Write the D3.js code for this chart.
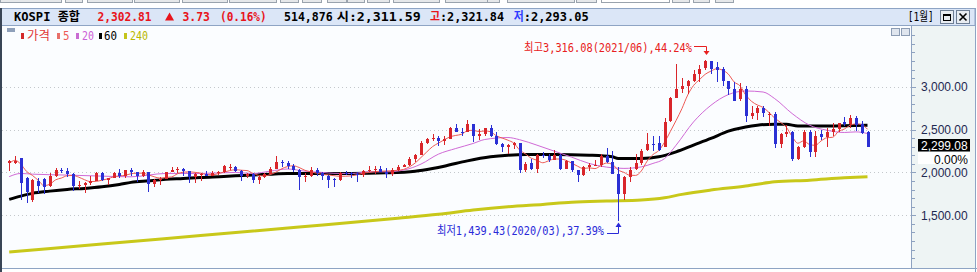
<!DOCTYPE html>
<html>
<head>
<meta charset="utf-8">
<script src="https://cdnjs.cloudflare.com/ajax/libs/d3/7.8.5/d3.min.js"></script>
<style>
body { margin: 0; background: #fff; overflow: hidden; }
svg { display: block; }
text { font-family: "DejaVu Sans Mono", "Noto Sans CJK KR", monospace; }
text.num { font-family: "Liberation Sans", Arial, sans-serif; }
</style>
</head>
<body>
<script>
// KOSPI monthly candles, 2011/06 .. 2023/10
var startYear = 2011, startMon = 6;

var opens = [
  2105,2108,2170,1930,1680,1897,1920,1840,1960,2030,
  2014,1982,1843,1854,1881,1905,1996,1912,1933,1997,
  1962,2027,2005,1964,2001,1863,1914,1926,2005,2030,
  2045,2011,1941,1980,1986,1962,1995,2002,2062,2068,
  2020,1964,1981,1916,1949,1985,2041,2127,2115,2074,
  2030,1941,1963,2029,1991,1961,1920,1917,1995,1994,
  1983,1970,2016,2034,2043,2008,1983,2026,2067,2091,
  2160,2205,2347,2392,2402,2363,2394,2523,2476,2474,
  2566,2427,2445,2515,2423,2326,2295,2322,2343,2029,
  2114,2041,2204,2195,2140,2203,2041,2130,2024,1967,
  2063,2083,2087,2197,2119,1987,1754,1947,2037,2108,
  2260,2330,2340,2300,2600,2874,2976,3013,3063,3150,
  3220,3303,3230,3205,3068,2970,2860,2977,2663,2699,
  2757,2680,2685,2332,2451,2472,2155,2293,2472,2236,
  2450,2412,2477,2501,2590,2564,2632,2560,2470];

var highs = [
  2146,2190,2172,1945,1925,1937,1940,1990,2050,2057,
  2050,1990,1903,1890,1960,2007,2005,1940,2000,2035,
  2030,2050,2010,2023,2010,1920,1950,2010,2063,2060,
  2050,2013,1990,1990,2020,2020,2020,2090,2093,2080,
  2030,1990,1990,1970,1990,2060,2190,2150,2130,2100,
  2040,1990,2065,2050,2000,1965,1930,2000,2020,2000,
  2010,2030,2070,2070,2070,2050,2050,2090,2100,2180,
  2220,2370,2400,2450,2430,2430,2530,2560,2520,2607,
  2570,2510,2520,2550,2470,2340,2330,2360,2345,2120,
  2160,2220,2240,2210,2260,2210,2150,2135,2030,2080,
  2110,2140,2220,2280,2250,2060,1960,2060,2220,2270,
  2460,2420,2420,2640,2880,3266,3100,3080,3200,3250,
  3316,3305,3285,3230,3070,3050,3040,3010,2770,2770,
  2780,2700,2700,2460,2550,2480,2310,2500,2500,2480,
  2490,2520,2580,2580,2650,2670,2660,2600,2480];

var lows = [
  2016,2095,1684,1644,1652,1760,1750,1825,1942,1988,
  1950,1780,1808,1758,1850,1900,1900,1850,1930,1940,
  1930,1960,1890,1950,1770,1830,1850,1920,2000,1990,
  1960,1880,1880,1900,1960,1955,1975,1995,2030,2010,
  1900,1930,1880,1870,1940,1980,2040,2060,2040,2000,
  1800,1890,1950,1960,1910,1820,1830,1900,1970,1930,
  1890,1950,2000,1980,2000,1930,1960,2020,2060,2070,
  2120,2200,2330,2370,2310,2320,2390,2470,2420,2470,
  2360,2380,2430,2410,2320,2240,2220,2270,1990,2010,
  2030,1990,2170,2120,2140,2030,2040,2010,1890,1960,
  2020,2080,2060,2110,1985,1439,1680,1890,2030,2090,
  2250,2250,2250,2300,2590,2870,2930,2920,3050,3050,
  3200,3150,3050,3010,2900,2830,2830,2590,2620,2610,
  2650,2540,2290,2280,2410,2134,2150,2280,2180,2180,
  2380,2300,2430,2470,2540,2520,2480,2450,2293];

var closes = [
  2135,2133,1880,1770,1909,1847,1826,1956,2030,2014,
  1982,1843,1854,1881,1905,1996,1912,1933,1997,1962,
  2027,2005,1964,2001,1863,1914,1926,2005,2030,2045,
  2011,1941,1980,1986,1962,1995,2002,2076,2068,2020,
  1964,1981,1916,1949,1985,2041,2127,2115,2074,2030,
  1941,1963,2029,1991,1961,1912,1917,1995,1994,1983,
  1970,2016,2034,2043,2008,1983,2026,2067,2091,2160,
  2205,2347,2392,2402,2363,2394,2523,2476,2467,2566,
  2427,2445,2515,2423,2326,2295,2322,2343,2029,2096,
  2041,2204,2195,2140,2203,2041,2130,2024,1967,2063,
  2083,2087,2197,2119,1987,1754,1947,2029,2108,2249,
  2326,2327,2267,2591,2873,2976,3013,3061,3147,3203,
  3296,3202,3199,3068,2970,2839,2977,2663,2699,2757,
  2695,2685,2332,2451,2472,2155,2293,2472,2236,2425,
  2412,2477,2501,2577,2564,2632,2556,2465,2299];

// closes of the 4 months before the first visible candle (for the 5 MA)
var prevCloses = [1939, 2107, 2192, 2142];

// longer averages: [month index, value]
var ma20Pts = [[0,1951],[2,1988],[4,1980],[10,1969],[16,1957],[21,1949],[27,1988],[33,1988],
  [39,2000],[42,1988],[45,2015],[48,2040],[51,2015],[54,2000],[56,1990],[59,1988],[62,2007],
  [65,2007],[68,2027],[71,2097],[74,2213],[77,2279],[80,2338],[82,2384],[86,2407],[88,2382],
  [91,2318],[94,2248],[97,2178],[100,2105],[103,2062],[106,2047],[109,2065],[111,2105],
  [113,2161],[115,2318],[118,2589],[121,2783],[124,2908],[127,2950],[130,2938],[132,2861],
  [135,2687],[138,2551],[141,2492],[144,2466],[146,2473],[148,2454]];

var ma60Pts = [[0,1686],[2,1724],[4,1756],[7,1782],[10,1802],[13,1814],[16,1832],[19,1860],
  [21,1884],[24,1902],[27,1919],[30,1930],[33,1942],[37,1953],[39,1960],[42,1969],[45,1980],
  [48,1988],[59,1988],[65,1995],[70,2015],[73,2047],[75,2073],[79,2135],[83,2182],[86,2201],
  [89,2210],[94,2210],[100,2201],[104,2182],[105,2163],[109,2163],[112,2182],[115,2240],
  [118,2318],[121,2396],[124,2481],[127,2531],[129,2551],[132,2562],[134,2562],[136,2542],
  [141,2542],[148,2551]];

var ma240Pts = [[0,1072],[16,1165],[33,1264],[50,1363],[67,1465],[74,1511],[80,1561],[86,1600],
  [92,1627],[97,1651],[103,1666],[109,1678],[113,1704],[116,1744],[121,1794],[127,1841],
  [132,1891],[138,1910],[144,1937],[148,1949]];

var gridValues = [1500, 2000, 2500, 3000];
var lastClose = 2299.08;

var months = opens.map(function(_, i) {
  var m = startMon - 1 + i;
  return (startYear + Math.floor(m / 12)) + "/" + String(m % 12 + 1).padStart(2, "0");
});

var candles = months.map(function(m, i) {
  return {m: m, o: opens[i], h: highs[i], l: lows[i], c: closes[i]};
});

// simple 5 month average of the closes
var allCloses = prevCloses.concat(closes);
var ma5 = closes.map(function(_, i) {
  return [i, d3.mean(allCloses.slice(i, i + 5))];
});

var W = 977, H = 272,
    plotL = 2, plotR = 911, plotT = 26, plotB = 268;

var x = d3.scalePoint().domain(months).range([9.2, 867.5]);
var y = d3.scaleLinear().domain([1500, 3000]).range([215.3, 86.7]);

var svg = d3.select("body").append("svg").attr("width", W).attr("height", H);

svg.append("rect").attr("width", W).attr("height", H).attr("fill", "#fff");

// toolbar buttons peeking at the top
var btns = [[0,62],[65,83],[87,133],[134,180],[182,228],[229,277],[280,299],[302,322],
  [327,347],[347,365],[367,390],[393,440],[445,490],[487,500],[507,575],[576,597],
  [672,690],[693,710],[715,734]];
svg.selectAll("rect.btn").data(btns).enter().append("rect")
  .attr("class", "btn")
  .attr("x", function(d) { return d[0] + 0.5; })
  .attr("y", -6.5)
  .attr("width", function(d) { return d[1] - d[0] - 1; })
  .attr("height", 9)
  .attr("fill", "#e6e8ea").attr("stroke", "#9aa3ad");
svg.append("rect").attr("x", 601.5).attr("y", -6.5).attr("width", 68).attr("height", 9)
  .attr("fill", "#fff").attr("stroke", "#9aa3ad");

// header band
svg.append("rect").attr("x", 0).attr("y", 8.5).attr("width", 975).attr("height", 17)
  .attr("fill", "#dbe6f7").attr("stroke", "#8ea4c4");

var red = "#e8141c", hdrBlue = "#2f3cff";
var hdr = [
  ["KOSPI 종합", 14, 66, "#000"],
  ["2,302.81", 97.5, 54, red],
  ["3.73", 182.5, 27.5, red],
  ["(0.16%)", 220, 46.7, red],
  ["514,876", 284, 48.7, "#000"],
  ["시:2,311.59", 336.7, 84, "#000"],
  ["고", 430, 10, red],
  [":2,321.84", 440, 64, "#000"],
  ["저", 513.7, 10, hdrBlue],
  [":2,293.05", 523.7, 65, "#000"]
];
svg.selectAll("text.hdr").data(hdr).enter().append("text")
  .attr("class", "hdr")
  .attr("x", function(d) { return d[1]; })
  .attr("y", 21)
  .attr("textLength", function(d) { return d[2]; })
  .attr("lengthAdjust", "spacingAndGlyphs")
  .attr("font-size", 12).attr("font-weight", "bold")
  .attr("fill", function(d) { return d[3]; })
  .text(function(d) { return d[0]; });
svg.append("path").attr("d", "M165,20.5L174,20.5L169.5,12.5Z").attr("fill", red);
svg.append("text").attr("x", 907.7).attr("y", 21).attr("font-size", 12)
  .attr("textLength", 26).attr("lengthAdjust", "spacingAndGlyphs").text("[1월]");

// window buttons
svg.append("rect").attr("x", 940.5).attr("y", 10.5).attr("width", 13).attr("height", 13)
  .attr("fill", "#e8ecf1").attr("stroke", "#6e7e94");
svg.append("rect").attr("x", 943.5).attr("y", 14.5).attr("width", 7).attr("height", 6)
  .attr("fill", "none").attr("stroke", "#000");
svg.append("line").attr("x1", 943.5).attr("x2", 950.5).attr("y1", 15.5).attr("y2", 15.5).attr("stroke", "#000");
svg.append("rect").attr("x", 956.5).attr("y", 10.5).attr("width", 13).attr("height", 13)
  .attr("fill", "#e8ecf1").attr("stroke", "#6e7e94");
svg.append("path").attr("d", "M959.5,13.5L966.5,20.5M966.5,13.5L959.5,20.5")
  .attr("stroke", "#000").attr("stroke-width", 1.6);

// plot and axis backgrounds
svg.append("rect").attr("x", plotL).attr("y", plotT).attr("width", plotR - plotL).attr("height", plotB - plotT)
  .attr("fill", "#fbfdff");
svg.append("rect").attr("x", plotR).attr("y", plotT).attr("width", 975 - plotR).attr("height", plotB - plotT)
  .attr("fill", "#eef4f4");

svg.append("defs").append("clipPath").attr("id", "clip")
  .append("rect").attr("x", plotL).attr("y", plotT).attr("width", plotR - plotL).attr("height", plotB - plotT);

// dotted grid
svg.append("g").selectAll("line").data(gridValues).enter().append("line")
  .attr("x1", plotL).attr("x2", plotR)
  .attr("y1", function(d) { return Math.round(y(d)) + 0.5; })
  .attr("y2", function(d) { return Math.round(y(d)) + 0.5; })
  .attr("stroke", "#c4c8cc").attr("stroke-dasharray", "1,3");

var plot = svg.append("g").attr("clip-path", "url(#clip)");

function maLine(pts, color, width) {
  var line = d3.line()
    .x(function(d) { return x(months[d[0]]); })
    .y(function(d) { return y(d[1]); })
    .curve(d3.curveMonotoneX);
  plot.append("path").datum(pts).attr("d", line)
    .attr("fill", "none").attr("stroke", color).attr("stroke-width", width);
}

maLine(ma240Pts, "#c8c81a", 3);
maLine(ma60Pts, "#000", 3);
maLine(ma20Pts, "#d06ad6", 1);
maLine(ma5, "#ee5a55", 1);

var upC = "#d9262b", dnC = "#2b30d4";
var cg = plot.selectAll("g.candle").data(candles).enter().append("g").attr("class", "candle")
  .attr("shape-rendering", "crispEdges");
cg.append("line")
  .attr("x1", function(d) { return Math.round(x(d.m)) + 0.5; })
  .attr("x2", function(d) { return Math.round(x(d.m)) + 0.5; })
  .attr("y1", function(d) { return y(d.h); })
  .attr("y2", function(d) { return y(d.l); })
  .attr("stroke", function(d) { return d.c >= d.o ? upC : dnC; });
cg.append("rect")
  .attr("x", function(d) { return Math.round(x(d.m)) - 1; })
  .attr("width", 3)
  .attr("y", function(d) { return y(Math.max(d.o, d.c)); })
  .attr("height", function(d) { return Math.max(1, Math.abs(y(d.o) - y(d.c))); })
  .attr("fill", function(d) { return d.c >= d.o ? upC : dnC; });

// high / low notes
var hiColor = "#e82020", loColor = "#2a2ad8";
svg.append("text").attr("x", 524).attr("y", 51.5).attr("font-size", 12)
  .attr("textLength", 168).attr("lengthAdjust", "spacingAndGlyphs")
  .attr("fill", hiColor).text("최고3,316.08(2021/06),44.24%");
svg.append("path").attr("d", "M694,46.5H706.5V52").attr("fill", "none").attr("stroke", hiColor);
svg.append("path").attr("d", "M703.5,51L709.5,51L706.5,55Z").attr("fill", hiColor);

svg.append("text").attr("x", 437).attr("y", 235).attr("font-size", 12)
  .attr("textLength", 167).attr("lengthAdjust", "spacingAndGlyphs")
  .attr("fill", loColor).text("최저1,439.43(2020/03),37.39%");
svg.append("path").attr("d", "M607,233.5H618.5V225").attr("fill", "none").attr("stroke", loColor);
svg.append("path").attr("d", "M615.5,227L621.5,227L618.5,222.5Z").attr("fill", loColor);

// legend
var legend = [
  ["가격", 21, 27, 23, "#d42a2a", "#e03a3a"],
  ["5", 57, 63, 6.5, "#e8706a", "#ee5a55"],
  ["20", 76, 82, 12, "#c96cd2", "#cc60d6"],
  ["60", 99, 104, 13, "#000", "#000"],
  ["240", 124, 130, 18, "#c4c41c", "#b8b800"]
];
svg.append("rect").attr("x", 7).attr("y", 28).attr("width", 8).attr("height", 4).attr("fill", "#8fa0ba");
var lg = svg.selectAll("g.leg").data(legend).enter().append("g").attr("class", "leg");
lg.append("rect").attr("x", function(d) { return d[1]; }).attr("y", 33)
  .attr("width", 3).attr("height", 6).attr("fill", function(d) { return d[4]; });
lg.append("text").attr("x", function(d) { return d[2]; }).attr("y", 40)
  .attr("font-size", 12).attr("fill", function(d) { return d[5]; })
  .attr("textLength", function(d) { return d[3]; }).attr("lengthAdjust", "spacingAndGlyphs")
  .text(function(d) { return d[0]; });

// mini buttons in the plot corner
svg.append("rect").attr("x", 891.5).attr("y", 28.5).attr("width", 8).attr("height", 7)
  .attr("fill", "#dfe5ee").attr("stroke", "#8c9cb4");
svg.append("rect").attr("x", 901.5).attr("y", 28.5).attr("width", 8).attr("height", 7)
  .attr("fill", "#dfe5ee").attr("stroke", "#8c9cb4");

// right axis
var axisColor = "#8ea2c0", labColor = "#1e2850";
var minor = svg.append("g").attr("transform", "translate(911.5,0)")
  .call(d3.axisRight(y).tickValues(d3.range(1000, 3700, 100)).tickSize(3).tickFormat(""));
minor.select(".domain").remove();
minor.selectAll("line").attr("stroke", axisColor).attr("shape-rendering", "crispEdges");

var major = svg.append("g").attr("transform", "translate(911.5,0)")
  .call(d3.axisRight(y).tickValues(gridValues).tickSize(4).tickPadding(5.5).tickFormat(d3.format(",.2f")));
major.select(".domain").remove();
major.selectAll("line").attr("stroke", axisColor).attr("shape-rendering", "crispEdges");
major.selectAll("text").attr("class", "num").attr("font-size", 12).attr("fill", labColor);

svg.append("line").attr("x1", 911.5).attr("x2", 911.5).attr("y1", plotT).attr("y2", plotB)
  .attr("stroke", axisColor);

// current value tag
var tagY = Math.round(y(lastClose));
svg.append("rect").attr("x", 918).attr("y", tagY - 8).attr("width", 52).attr("height", 12.5).attr("fill", "#000");
svg.append("text").attr("class", "num").attr("x", 921).attr("y", tagY + 2.5).attr("font-size", 12).attr("fill", "#fff")
  .text(d3.format(",.2f")(lastClose));
svg.append("rect").attr("x", 918).attr("y", tagY + 5).attr("width", 52).attr("height", 12).attr("fill", "#fff");
svg.append("text").attr("class", "num").attr("x", 968).attr("y", tagY + 16.5).attr("font-size", 12).attr("fill", "#000")
  .attr("text-anchor", "end").text("0.00%");

// frame
svg.append("line").attr("x1", 0).attr("x2", W).attr("y1", plotB + 0.5).attr("y2", plotB + 0.5).attr("stroke", "#8ea4c4");
svg.append("line").attr("x1", 975.5).attr("x2", 975.5).attr("y1", 8).attr("y2", H).attr("stroke", "#8ea4c4");
svg.append("rect").attr("x", 0).attr("y", 8).attr("width", 2).attr("height", H - 8).attr("fill", "#394556");
</script>
</body>
</html>
